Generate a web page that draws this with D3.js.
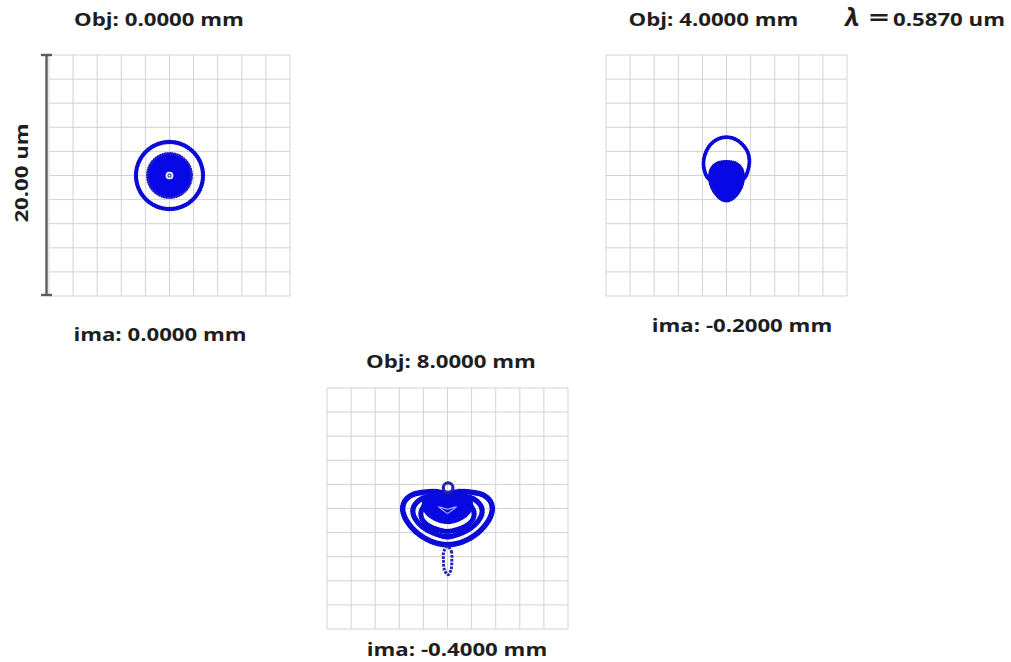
<!DOCTYPE html>
<html>
<head>
<meta charset="utf-8">
<script src="https://cdn.jsdelivr.net/npm/d3@7"></script>
<style>
  html, body { margin: 0; padding: 0; background: #ffffff; }
  svg { display: block; }
  text { font-family: "Open Sans", "Noto Sans", sans-serif; font-weight: 700; fill: #1e1e1e; }
</style>
</head>
<body>
<svg id="chart" width="1011" height="662"></svg>
<script>
// ---- Field labels ----
const objectHeights = ["Obj: 0.0000 mm", "Obj: 4.0000 mm", "Obj: 8.0000 mm"];
const imageHeights = ["ima: 0.0000 mm", "ima: -0.2000 mm", "ima: -0.4000 mm"];
const wavelengthSymbol = "\u03BB";
const wavelengthValue = "0.5870 um";
const scaleBarLabel = "20.00 um";

// Grid lines in micrometres about the chief ray (the box spans 20 um)
const gridTicks = [-10, -8, -6, -4, -2, 0, 2, 4, 6, 8, 10];

// ---- Field 1 (on axis): rotationally symmetric spot, radii in um ----
const field1Rings = [2.78];
const field1Core = [1.85];
const field1Hole = [0.32];
const field1Chief = [0.13];

// ---- Field 2: upper loop and dense lower core, [x, y] in um ----
const field2Loop = [
  [-1.55, -0.2], [-1.85, 0.5], [-1.9, 1.2], [-1.7, 1.95], [-1.3, 2.6], [-0.65, 3.05],
  [0.0, 3.18], [0.65, 3.05], [1.3, 2.6], [1.75, 1.95], [1.9, 1.2], [1.8, 0.5],
  [1.5, -0.2], [0.7, -0.6], [0.0, -0.7], [-0.7, -0.6]
];
const field2Core = [
  [0.0, 1.15], [0.75, 1.02], [1.22, 0.6], [1.4, -0.05], [1.3, -0.75], [0.95, -1.45],
  [0.45, -1.95], [0.0, -2.1], [-0.45, -1.95], [-0.95, -1.45], [-1.3, -0.75],
  [-1.4, -0.05], [-1.22, 0.6], [-0.75, 1.02]
];

// ---- Field 3: nested coma wings, centre blob, top loop and lower tail ----
const field3Outer = [
  [0.0, 1.25], [1.0, 1.4], [2.0, 1.35], [3.0, 1.1], [3.55, 0.6], [3.72, 0.0],
  [3.58, -0.65], [3.2, -1.3], [2.6, -1.95], [1.9, -2.45], [1.0, -2.85], [0.0, -3.0],
  [-1.0, -2.85], [-1.9, -2.45], [-2.6, -1.95], [-3.2, -1.3], [-3.58, -0.65], [-3.72, 0.0],
  [-3.55, 0.6], [-3.0, 1.1], [-2.0, 1.35], [-1.0, 1.4]
];
const field3Middle = [
  [0.0, 0.95], [1.2, 1.02], [2.2, 0.78], [2.8, 0.15], [2.85, -0.45], [2.5, -1.1],
  [1.9, -1.65], [1.0, -2.1], [0.0, -2.35], [-1.0, -2.1], [-1.9, -1.65], [-2.5, -1.1],
  [-2.85, -0.45], [-2.8, 0.15], [-2.2, 0.78], [-1.2, 1.02]
];
const field3Inner = [
  [0.0, 0.6], [1.0, 0.65], [1.8, 0.35], [2.2, -0.3], [2.1, -0.9], [1.6, -1.4],
  [0.8, -1.75], [0.0, -1.9], [-0.8, -1.75], [-1.6, -1.4], [-2.1, -0.9], [-2.2, -0.3],
  [-1.8, 0.35], [-1.0, 0.65]
];
const field3Core = [
  [-1.7, 0.95], [-0.7, 1.05], [0.0, 0.9], [0.7, 1.05], [1.7, 0.95], [2.0, 0.3],
  [1.7, -0.4], [0.9, -0.95], [0.0, -1.15], [-0.9, -0.95], [-1.7, -0.4], [-2.0, 0.3]
];
const field3Gap = [
  [-0.75, 0.15], [-0.3, -0.2], [0.0, -0.4], [0.3, -0.2], [0.75, 0.15], [0.0, -0.05]
];
const field3Top = [[0.05, 1.72, 0.4]];
const field3Tail = [
  [0.0, -3.15], [0.32, -3.55], [0.36, -4.3], [0.3, -5.05], [0.05, -5.5],
  [-0.25, -5.1], [-0.34, -4.3], [-0.3, -3.55]
];

// ---- Layout ----
const svg = d3.select("#chart");
const SIZE = 241;
const ringColor = "#2424b4";
const dotColor = "#0b0bd8";
const coreColor = "#0808e6";
const STRETCH = 1.2;   // wide label lettering

const panels = [
  { x: 49, y: 55 },
  { x: 606, y: 55 },
  { x: 327, y: 388 }
];

const xScale = d3.scaleLinear().domain([-10, 10]).range([0, SIZE]);
const yScale = d3.scaleLinear().domain([-10, 10]).range([SIZE, 0]);
const rScale = d3.scaleLinear().domain([0, 20]).range([0, SIZE]);

const contour = d3.line()
  .x(d => xScale(d[0]))
  .y(d => yScale(d[1]))
  .curve(d3.curveCatmullRomClosed.alpha(0.5));

const groups = panels.map(p => {
  const g = svg.append("g").attr("transform", `translate(${p.x},${p.y})`);
  g.selectAll("line.v").data(gridTicks).join("line")
    .attr("class", "v")
    .attr("x1", d => xScale(d)).attr("x2", d => xScale(d))
    .attr("y1", 0).attr("y2", SIZE)
    .attr("stroke", "#d3d3d3").attr("stroke-width", 1);
  g.selectAll("line.h").data(gridTicks).join("line")
    .attr("class", "h")
    .attr("y1", d => yScale(d)).attr("y2", d => yScale(d))
    .attr("x1", 0).attr("x2", SIZE)
    .attr("stroke", "#d3d3d3").attr("stroke-width", 1);
  return g;
});

// A ray contour: soft band of dots
function drawRing(g, pts, width, fill) {
  if (fill) {
    g.append("path").datum(pts).attr("d", contour)
      .attr("fill", fill).attr("stroke", "none");
  }
  g.append("path").datum(pts).attr("d", contour)
    .attr("fill", "none").attr("stroke", ringColor)
    .attr("stroke-width", width).attr("stroke-opacity", 0.9);
  g.append("path").datum(pts).attr("d", contour)
    .attr("fill", "none").attr("stroke", dotColor)
    .attr("stroke-width", width + 1.2).attr("stroke-linecap", "round")
    .attr("stroke-dasharray", "0.1 2.3");
}

function drawCircle(g, r, width, fill, stroke) {
  g.append("circle")
    .attr("cx", xScale(0)).attr("cy", yScale(0)).attr("r", rScale(r))
    .attr("fill", fill).attr("stroke", stroke || "none")
    .attr("stroke-width", width);
}

// Field 1
const g1 = groups[0];
field1Rings.forEach(r => {
  drawCircle(g1, r, 3.0, "none", ringColor);
  g1.append("circle").attr("cx", xScale(0)).attr("cy", yScale(0)).attr("r", rScale(r))
    .attr("fill", "none").attr("stroke", dotColor).attr("stroke-width", 4.4)
    .attr("stroke-linecap", "round").attr("stroke-dasharray", "0.1 2.3");
});
field1Core.forEach(r => {
  drawCircle(g1, r, 0, coreColor);
  g1.append("circle").attr("cx", xScale(0)).attr("cy", yScale(0)).attr("r", rScale(r))
    .attr("fill", "none").attr("stroke", "#1f1fc4").attr("stroke-width", 2.6)
    .attr("stroke-linecap", "round").attr("stroke-dasharray", "0.1 2.4");
});
field1Hole.forEach(r => drawCircle(g1, r, 0, "#ffffff"));
field1Chief.forEach(r => drawCircle(g1, r, 1.3, "none", "#3b3bd0"));

// Field 2
const g2 = groups[1];
drawRing(g2, field2Loop, 2.8, null);
drawRing(g2, field2Core, 2.4, coreColor);

// Field 3
const g3 = groups[2];
drawRing(g3, field3Outer, 4.4, null);
drawRing(g3, field3Middle, 4.2, null);
drawRing(g3, field3Inner, 4.0, null);
drawRing(g3, field3Core, 2.4, coreColor);
g3.append("path").datum(field3Gap).attr("d", contour)
  .attr("fill", "none").attr("stroke", "#a9a9f4").attr("stroke-width", 1.2);
field3Top.forEach(([cx, cy, r]) => {
  g3.append("circle").attr("cx", xScale(cx)).attr("cy", yScale(cy)).attr("r", rScale(r))
    .attr("fill", "none").attr("stroke", ringColor).attr("stroke-width", 3.2);
});
g3.append("path").datum(field3Tail).attr("d", contour)
  .attr("fill", "none").attr("stroke", ringColor).attr("stroke-width", 3.0)
  .attr("stroke-dasharray", "2.6 1.2");

// Stretch a label horizontally to the wide lettering
function widen(sel) {
  sel.each(function () {
    const w = this.getComputedTextLength();
    d3.select(this).attr("textLength", w * STRETCH).attr("lengthAdjust", "spacingAndGlyphs");
  });
  return sel;
}

// Scale bar
const bar = svg.append("g").attr("transform", `translate(46.5,${panels[0].y})`);
bar.append("line").attr("x1", 0).attr("x2", 0).attr("y1", 0).attr("y2", SIZE - 1)
  .attr("stroke", "#5a5a5a").attr("stroke-width", 2.4);
[0, SIZE - 1].forEach(y => bar.append("line")
  .attr("x1", -5.5).attr("x2", 5.5).attr("y1", y).attr("y2", y)
  .attr("stroke", "#5a5a5a").attr("stroke-width", 2.4));
widen(svg.append("text")
  .attr("transform", "translate(28,173) rotate(-90)")
  .attr("text-anchor", "middle").attr("font-size", 18.5)
  .text(scaleBarLabel));

// Titles
const titlePos = [[159, 26], [713.5, 26], [451, 368]];
const imagePos = [[160, 341], [742, 332], [457, 656]];
objectHeights.forEach((t, i) => widen(svg.append("text")
  .attr("x", titlePos[i][0]).attr("y", titlePos[i][1])
  .attr("text-anchor", "middle").attr("font-size", 18.5).text(t)));
imageHeights.forEach((t, i) => widen(svg.append("text")
  .attr("x", imagePos[i][0]).attr("y", imagePos[i][1])
  .attr("text-anchor", "middle").attr("font-size", 18.5).text(t)));

// Wavelength note
const wl = svg.append("g").attr("transform", "translate(845,26)");
wl.append("text").attr("font-family", "DejaVu Serif, serif").attr("font-style", "italic")
  .attr("font-weight", 700).attr("font-size", 25).text(wavelengthSymbol);
wl.append("text").attr("x", 24).attr("font-family", "DejaVu Sans, sans-serif")
  .attr("font-weight", 400).attr("font-size", 24)
  .attr("textLength", 20).attr("lengthAdjust", "spacingAndGlyphs").text("=");
widen(wl.append("text").attr("x", 48).attr("font-size", 18.5).text(wavelengthValue));
</script>
</body>
</html>
